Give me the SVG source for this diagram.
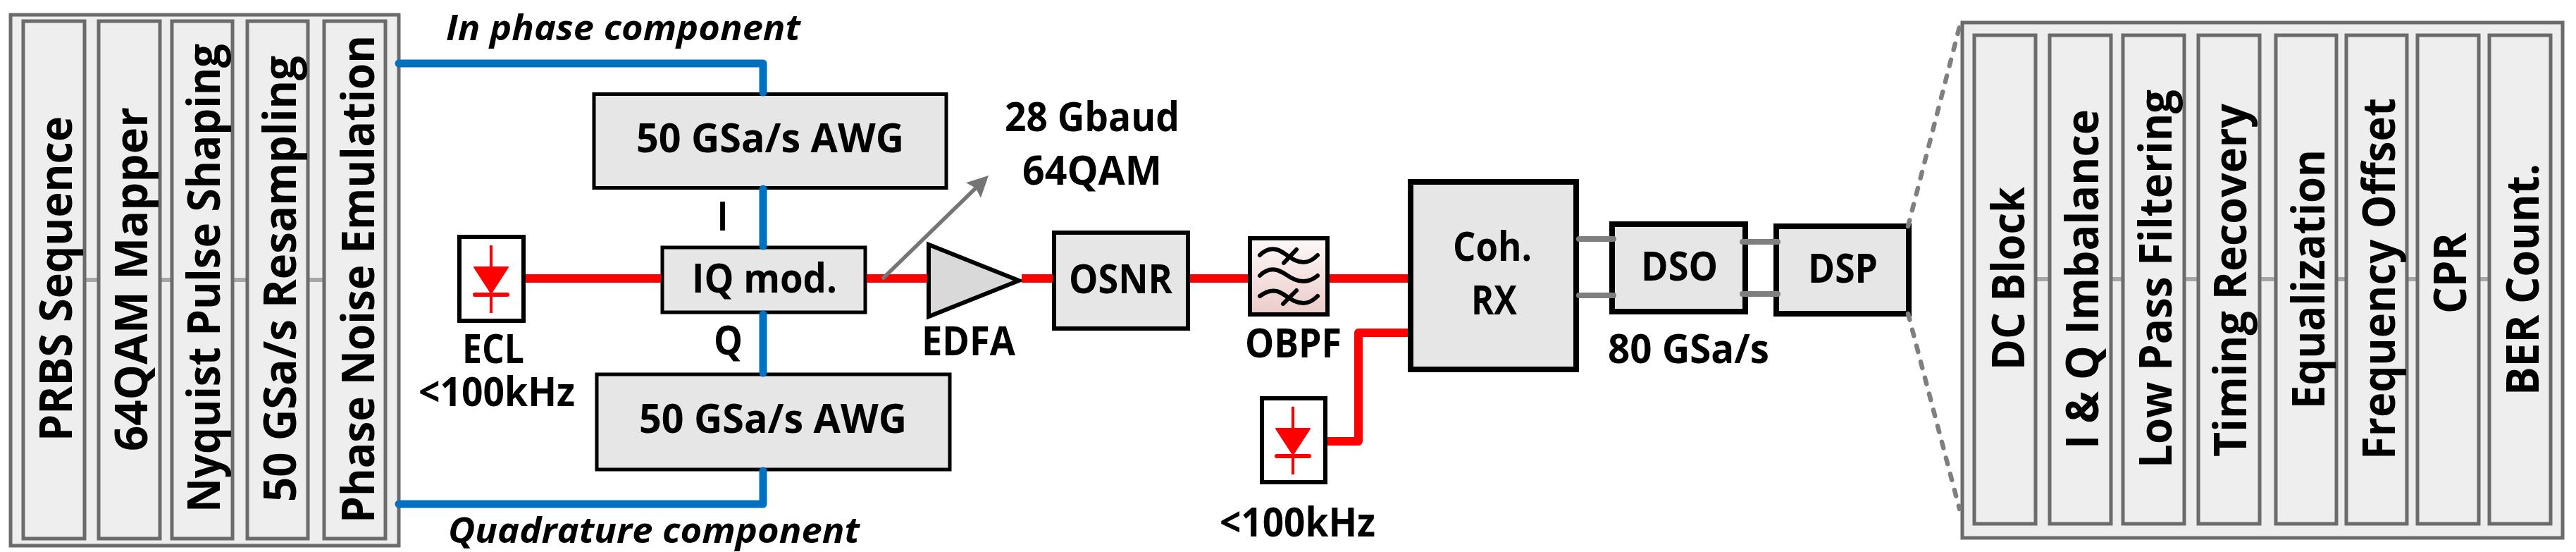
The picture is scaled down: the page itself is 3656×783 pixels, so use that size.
<svg xmlns="http://www.w3.org/2000/svg" width="3656" height="783" viewBox="0 0 3656 783">
<style>
text{font-family:"Open Sans","Noto Sans","Liberation Sans",sans-serif;font-weight:700;fill:#000}
.h{font-size:58px}
.v{font-size:65px}
.it{font-size:50px;font-style:italic}
.panel{fill:#eeeeee;stroke:#6b6b6b;stroke-width:5}
.cell{fill:#eeeeee;stroke:#6b6b6b;stroke-width:5}
.box{fill:#e6e6e6;stroke:#000;stroke-width:5}
.med{stroke-width:6}
.thick{stroke-width:8}
.diode{fill:#fff;stroke:#000;stroke-width:6}
.red{fill:none;stroke:#ff0000;stroke-width:12;stroke-linejoin:round}
.blue{fill:none;stroke:#0070c0;stroke-width:11;stroke-linecap:round;stroke-linejoin:round}
.grey{fill:none;stroke:#7f7f7f;stroke-width:8;stroke-linecap:round}
.link{fill:none;stroke:#a6a6a6;stroke-width:6}
.dash{fill:none;stroke:#7f7f7f;stroke-width:6.5;stroke-linecap:round;stroke-dasharray:9 14.5}
.wave{fill:none;stroke:#000;stroke-width:6;stroke-linecap:round}
</style>
<defs>
<linearGradient id="flt" x1="0" y1="0" x2="0" y2="1"><stop offset="0" stop-color="#fdf9f9"/><stop offset="1" stop-color="#ebcbc7"/></linearGradient>
<marker id="ah" markerUnits="userSpaceOnUse" markerWidth="34" markerHeight="34" refX="24" refY="15" orient="auto"><path d="M0,0 L30,15 L0,30 L4.5,15 Z" fill="#757575"/></marker>
<g id="dio">
<path d="M0,-48 V48" fill="none" stroke="#f00" stroke-width="4"/>
<path d="M-24,-17 H24 L0,20 Z" fill="#f00" stroke="#f00" stroke-width="2" stroke-linejoin="round"/>
<path d="M-23,22 H23" fill="none" stroke="#f00" stroke-width="6" stroke-linecap="round"/>
</g>
</defs>
<g id="tx-panel">
<rect class="panel" x="15" y="21" width="551" height="753"/>
<path class="link" d="M31,397 H549"/>
<rect class="cell" x="33" y="30" width="87" height="734"/>
<rect class="cell" x="140" y="30" width="87" height="734"/>
<rect class="cell" x="244" y="30" width="86" height="734"/>
<rect class="cell" x="351" y="30" width="86" height="734"/>
<rect class="cell" x="460" y="30" width="87" height="734"/>
<text class="v" transform="translate(102,626) rotate(-90)" textLength="461" lengthAdjust="spacingAndGlyphs">PRBS Sequence</text>
<text class="v" transform="translate(209,640) rotate(-90)" textLength="488" lengthAdjust="spacingAndGlyphs">64QAM Mapper</text>
<text class="v" transform="translate(312,727) rotate(-90)" textLength="665" lengthAdjust="spacingAndGlyphs">Nyquist Pulse Shaping</text>
<text class="v" transform="translate(420,712) rotate(-90)" textLength="633" lengthAdjust="spacingAndGlyphs">50 GSa/s Resampling</text>
<text class="v" transform="translate(531,742) rotate(-90)" textLength="692" lengthAdjust="spacingAndGlyphs">Phase Noise Emulation</text>
</g>
<g id="label-inphase"><text class="it" x="633" y="57" textLength="503" lengthAdjust="spacingAndGlyphs">In phase component</text></g>
<g id="label-quad"><text class="it" x="636" y="770" textLength="584" lengthAdjust="spacingAndGlyphs">Quadrature component</text></g>
<g id="awg1"><rect class="box" x="843" y="133.500" width="500" height="133"/><text class="h" x="903" y="216" textLength="380" lengthAdjust="spacingAndGlyphs">50 GSa/s AWG</text></g>
<g id="awg2"><rect class="box" x="847" y="531" width="501" height="135"/><text class="h" x="907" y="614" textLength="380" lengthAdjust="spacingAndGlyphs">50 GSa/s AWG</text></g>
<g id="iqmod"><rect class="box" x="940" y="351" width="288" height="92"/><text class="h" x="982" y="415" textLength="206" lengthAdjust="spacingAndGlyphs">IQ mod.</text></g>
<g id="label-i"><text class="h" x="1018" y="327" textLength="15" lengthAdjust="spacingAndGlyphs">I</text></g>
<g id="label-q"><text class="h" x="1013" y="503" textLength="41" lengthAdjust="spacingAndGlyphs">Q</text></g>
<g id="ecl"><rect class="diode" x="652" y="336" width="91" height="119"/><use href="#dio" x="697" y="396"/>
<text class="h" x="656" y="515" textLength="88" lengthAdjust="spacingAndGlyphs">ECL</text>
<text class="h" x="594" y="576" textLength="222" lengthAdjust="spacingAndGlyphs">&lt;100kHz</text></g>
<g id="edfa"><path d="M1318,347 V449 L1446,398 Z" fill="#d9d9d9" stroke="#000" stroke-width="6" stroke-linejoin="miter"/>
<text class="h" x="1308" y="504" textLength="133" lengthAdjust="spacingAndGlyphs">EDFA</text></g>
<g id="label-rate"><text class="h" x="1426" y="186" textLength="248" lengthAdjust="spacingAndGlyphs">28 Gbaud</text>
<text class="h" x="1451" y="262" textLength="198" lengthAdjust="spacingAndGlyphs">64QAM</text></g>
<g id="osnr"><rect class="box med" x="1496" y="330" width="190" height="136"/><text class="h" x="1517" y="416" textLength="147" lengthAdjust="spacingAndGlyphs">OSNR</text></g>
<g id="obpf"><rect x="1774" y="338" width="110" height="108" fill="url(#flt)" stroke="#000" stroke-width="6"/>
<path class="wave" d="M1788,362 C1796,354 1804,352 1812,354 C1824,357 1834,372 1850,372 C1858,372 1864,368 1870,362"/>
<path class="wave" d="M1788,391 C1796,383 1804,381 1812,383 C1824,386 1834,399 1850,399 C1858,399 1864,396 1870,391"/>
<path class="wave" d="M1788,420 C1796,414 1804,411 1812,413 C1824,416 1834,430 1850,430 C1858,430 1864,426 1870,420"/>
<path class="wave" d="M1822,373 L1840,354"/>
<path class="wave" d="M1821,431 L1840,412"/>
<text class="h" x="1767" y="507" textLength="137" lengthAdjust="spacingAndGlyphs">OBPF</text></g>
<g id="lo"><rect class="diode" x="1791" y="565" width="90" height="119"/><use href="#dio" x="1835" y="625"/>
<text class="h" x="1731" y="761" textLength="221" lengthAdjust="spacingAndGlyphs">&lt;100kHz</text></g>
<g id="cohrx"><rect class="box thick" x="2002" y="258" width="235" height="266"/>
<text class="h" x="2062" y="370" textLength="112" lengthAdjust="spacingAndGlyphs">Coh.</text>
<text class="h" x="2088" y="446" textLength="65" lengthAdjust="spacingAndGlyphs">RX</text></g>
<g id="dso"><rect class="box thick" x="2288" y="318" width="189" height="124"/><text class="h" x="2329" y="398" textLength="109" lengthAdjust="spacingAndGlyphs">DSO</text>
<text class="h" x="2282" y="515" textLength="229" lengthAdjust="spacingAndGlyphs">80 GSa/s</text></g>
<g id="dsp"><rect class="box thick" x="2521" y="321" width="188" height="124"/><text class="h" x="2566" y="401" textLength="99" lengthAdjust="spacingAndGlyphs">DSP</text></g>
<g id="rx-panel">
<rect class="panel" x="2785" y="32" width="852" height="731"/>
<path class="link" d="M2800,396 H3622"/>
<rect class="cell" x="2802" y="50" width="87" height="693"/>
<rect class="cell" x="2909" y="50" width="87" height="693"/>
<rect class="cell" x="3013" y="50" width="87" height="693"/>
<rect class="cell" x="3120" y="50" width="87" height="693"/>
<rect class="cell" x="3230" y="50" width="86" height="693"/>
<rect class="cell" x="3330" y="50" width="86" height="693"/>
<rect class="cell" x="3431" y="50" width="87" height="693"/>
<rect class="cell" x="3533" y="50" width="87" height="693"/>
<text class="v" transform="translate(2873,525) rotate(-90)" textLength="260" lengthAdjust="spacingAndGlyphs">DC Block</text>
<text class="v" transform="translate(2978,637) rotate(-90)" textLength="482" lengthAdjust="spacingAndGlyphs">I &amp; Q Imbalance</text>
<text class="v" transform="translate(3082,664) rotate(-90)" textLength="537" lengthAdjust="spacingAndGlyphs">Low Pass Filtering</text>
<text class="v" transform="translate(3188,648) rotate(-90)" textLength="501" lengthAdjust="spacingAndGlyphs">Timing Recovery</text>
<text class="v" transform="translate(3299,580) rotate(-90)" textLength="368" lengthAdjust="spacingAndGlyphs">Equalization</text>
<text class="v" transform="translate(3399,652) rotate(-90)" textLength="513" lengthAdjust="spacingAndGlyphs">Frequency Offset</text>
<text class="v" transform="translate(3500,445) rotate(-90)" textLength="115" lengthAdjust="spacingAndGlyphs">CPR</text>
<text class="v" transform="translate(3603,561) rotate(-90)" textLength="329" lengthAdjust="spacingAndGlyphs">BER Count.</text>
</g>
<g id="connectors">
<path class="red" d="M746,395 H938"/>
<path class="red" d="M1230,395 H1316"/>
<path class="red" d="M1450,395 H1494"/>
<path class="red" d="M1689,395 H1771"/>
<path class="red" d="M1887,395 H1998"/>
<path class="red" d="M1998,472 H1928 V626 H1884"/>
<path class="grey" d="M1252,396 L1398.700,253.200" style="stroke-width:5.500;stroke-linecap:butt;stroke:#757575" marker-end="url(#ah)"/>
<path class="blue" d="M566,90 H1083 V131"/>
<path class="blue" d="M1083,268 V349"/>
<path class="blue" d="M1083,446 V529"/>
<path class="blue" d="M1083,668 V715 H566"/>
<path class="grey" d="M2241,339 H2290"/>
<path class="grey" d="M2241,419 H2290"/>
<path class="grey" d="M2473,343 H2523"/>
<path class="grey" d="M2473,417 H2523"/>
<path class="dash" d="M2708,321 L2781,38"/>
<path class="dash" d="M2708,445 L2781,722"/>
</g>
</svg>
